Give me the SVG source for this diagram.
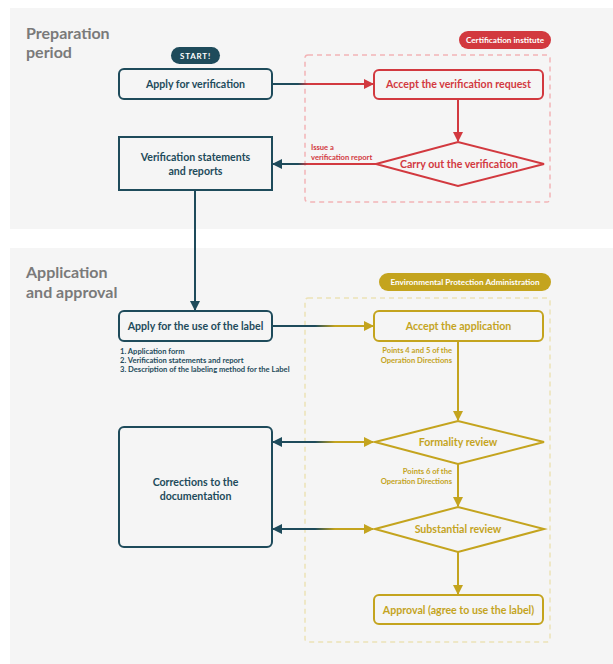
<svg xmlns="http://www.w3.org/2000/svg" width="613" height="664" viewBox="0 0 613 664">
<style>
text{font-family:Lato,"Noto Sans","DejaVu Sans",sans-serif;font-weight:700}
.t{fill:#1e4b5b}
.r{fill:#d2393f}
.g{fill:#c4a41e}
.w{fill:#ffffff}
.title{fill:#7a7a7a;font-size:16px}
.n{font-size:10.6px;text-anchor:middle}
.s{font-size:7.6px}
.tbox{fill:none;stroke:#1e4b5b;stroke-width:2}
.rbox{fill:none;stroke:#d2393f;stroke-width:2}
.gbox{fill:none;stroke:#c4a41e;stroke-width:2}
</style>
<defs>
<marker id="at" viewBox="0 0 10 10" refX="9" refY="5" markerWidth="10" markerHeight="10" markerUnits="userSpaceOnUse" orient="auto-start-reverse"><path d="M0,0 L10,5 L0,10 z" fill="#1e4b5b"/></marker>
<marker id="ar" viewBox="0 0 10 10" refX="9" refY="5" markerWidth="10" markerHeight="10" markerUnits="userSpaceOnUse" orient="auto-start-reverse"><path d="M0,0 L10,5 L0,10 z" fill="#d2393f"/></marker>
<marker id="ag" viewBox="0 0 10 10" refX="9" refY="5" markerWidth="10" markerHeight="10" markerUnits="userSpaceOnUse" orient="auto-start-reverse"><path d="M0,0 L10,5 L0,10 z" fill="#c4a41e"/></marker>
<linearGradient id="gtr" gradientUnits="userSpaceOnUse" x1="298" y1="0" x2="308" y2="0"><stop offset="0" stop-color="#1e4b5b"/><stop offset="1" stop-color="#d2393f"/></linearGradient>
<linearGradient id="gtg" gradientUnits="userSpaceOnUse" x1="315" y1="0" x2="335" y2="0"><stop offset="0" stop-color="#1e4b5b"/><stop offset="1" stop-color="#c4a41e"/></linearGradient>
</defs>
<rect x="0" y="0" width="613" height="664" fill="#ffffff"/>
<rect x="10" y="8" width="603" height="221" fill="#f5f5f5"/>
<rect x="10" y="248" width="603" height="416" fill="#f5f5f5"/>

<g id="labels">
<text class="title" x="26" y="39">Preparation</text>
<text class="title" x="26" y="58">period</text>
<text class="title" x="26" y="278">Application</text>
<text class="title" x="26" y="298">and approval</text>
</g>

<g id="cert-zone">
<rect x="305" y="55" width="245" height="147" rx="3" fill="none" stroke="#f2b4b6" stroke-width="1.5" stroke-dasharray="5,4"/>
<rect x="459" y="31" width="92" height="18" rx="9" fill="#d2393f"/>
<text class="w n" x="505" y="43" style="font-size:8.2px">Certification institute</text>
</g>
<g id="epa-zone">
<rect x="305" y="298" width="245" height="344" rx="3" fill="none" stroke="#ece2b6" stroke-width="1.5" stroke-dasharray="5,4"/>
<rect x="379" y="273" width="172" height="18" rx="9" fill="#c4a41e"/>
<text class="w n" x="465" y="285" style="font-size:8.2px">Environmental Protection Administration</text>
</g>

<g id="connectors" fill="none" stroke-width="2">
<line x1="272" y1="84" x2="373" y2="84" stroke="url(#gtr)" marker-end="url(#ar)"/>
<line x1="458" y1="99" x2="458" y2="141" stroke="#d2393f" marker-end="url(#ar)"/>
<line x1="376" y1="164" x2="273" y2="164" stroke="url(#gtr)" marker-end="url(#at)"/>
<line x1="195" y1="190" x2="195" y2="310" stroke="#1e4b5b" marker-end="url(#at)"/>
<line x1="272" y1="326" x2="373" y2="326" stroke="url(#gtg)" marker-end="url(#ag)"/>
<line x1="458" y1="341" x2="458" y2="420" stroke="#c4a41e" marker-end="url(#ag)"/>
<line x1="273" y1="442" x2="373" y2="442" stroke="url(#gtg)" marker-start="url(#at)" marker-end="url(#ag)"/>
<line x1="458" y1="464" x2="458" y2="506" stroke="#c4a41e" marker-end="url(#ag)"/>
<line x1="273" y1="529" x2="373" y2="529" stroke="url(#gtg)" marker-start="url(#at)" marker-end="url(#ag)"/>
<line x1="458" y1="552" x2="458" y2="594" stroke="#c4a41e" marker-end="url(#ag)"/>
</g>

<g id="edge-labels">
<text class="r s" x="311" y="150">Issue a</text>
<text class="r s" x="311" y="160">verification report</text>
<text class="g s" x="452" y="353" text-anchor="end">Points 4 and 5 of the</text>
<text class="g s" x="452" y="363" text-anchor="end">Operation Directions</text>
<text class="g s" x="452" y="474" text-anchor="end">Points 6 of the</text>
<text class="g s" x="452" y="484" text-anchor="end">Operation Directions</text>
</g>

<g id="start">
<rect x="171" y="47" width="49" height="17" rx="8.5" fill="#1e4b5b"/>
<text class="w n" x="195.5" y="59" style="font-size:8px;letter-spacing:0.8px">START!</text>
</g>
<g id="apply-verification">
<rect class="tbox" x="119" y="69" width="153" height="30" rx="5"/>
<text class="t n" x="195.5" y="88">Apply for verification</text>
</g>
<g id="verification-statements">
<rect class="tbox" x="119" y="137" width="153" height="53"/>
<text class="t n" x="195.5" y="161">Verification statements</text>
<text class="t n" x="195.5" y="175">and reports</text>
</g>
<g id="accept-request">
<rect class="rbox" x="374" y="70" width="169" height="29" rx="5"/>
<text class="r n" x="458.5" y="88">Accept the verification request</text>
</g>
<g id="carry-out">
<polygon class="rbox" points="376,164 458,142 544,164 458,186"/>
<text class="r n" x="459" y="168">Carry out the verification</text>
</g>
<g id="apply-label">
<rect class="tbox" x="119" y="311" width="153" height="30" rx="5"/>
<text class="t n" x="195.5" y="330">Apply for the use of the label</text>
<text class="t s" x="120" y="354">1. Application form</text>
<text class="t s" x="120" y="363">2. Verification statements and report</text>
<text class="t s" x="120" y="372">3. Description of the labeling method for the Label</text>
</g>
<g id="accept-application">
<rect class="gbox" x="374" y="311" width="169" height="30" rx="5"/>
<text class="g n" x="458.5" y="330">Accept the application</text>
</g>
<g id="formality-review">
<polygon class="gbox" points="375,442 458,421 544,442 458,464"/>
<text class="g n" x="458" y="446">Formality review</text>
</g>
<g id="corrections">
<rect class="tbox" x="119" y="427" width="153" height="120" rx="5"/>
<text class="t n" x="195.5" y="486">Corrections to the</text>
<text class="t n" x="195.5" y="500">documentation</text>
</g>
<g id="substantial-review">
<polygon class="gbox" points="375,529 458,507 544,529 458,552"/>
<text class="g n" x="458" y="533">Substantial review</text>
</g>
<g id="approval">
<rect class="gbox" x="374" y="595" width="169" height="29" rx="5"/>
<text class="g n" x="458.5" y="614">Approval (agree to use the label)</text>
</g>
</svg>
